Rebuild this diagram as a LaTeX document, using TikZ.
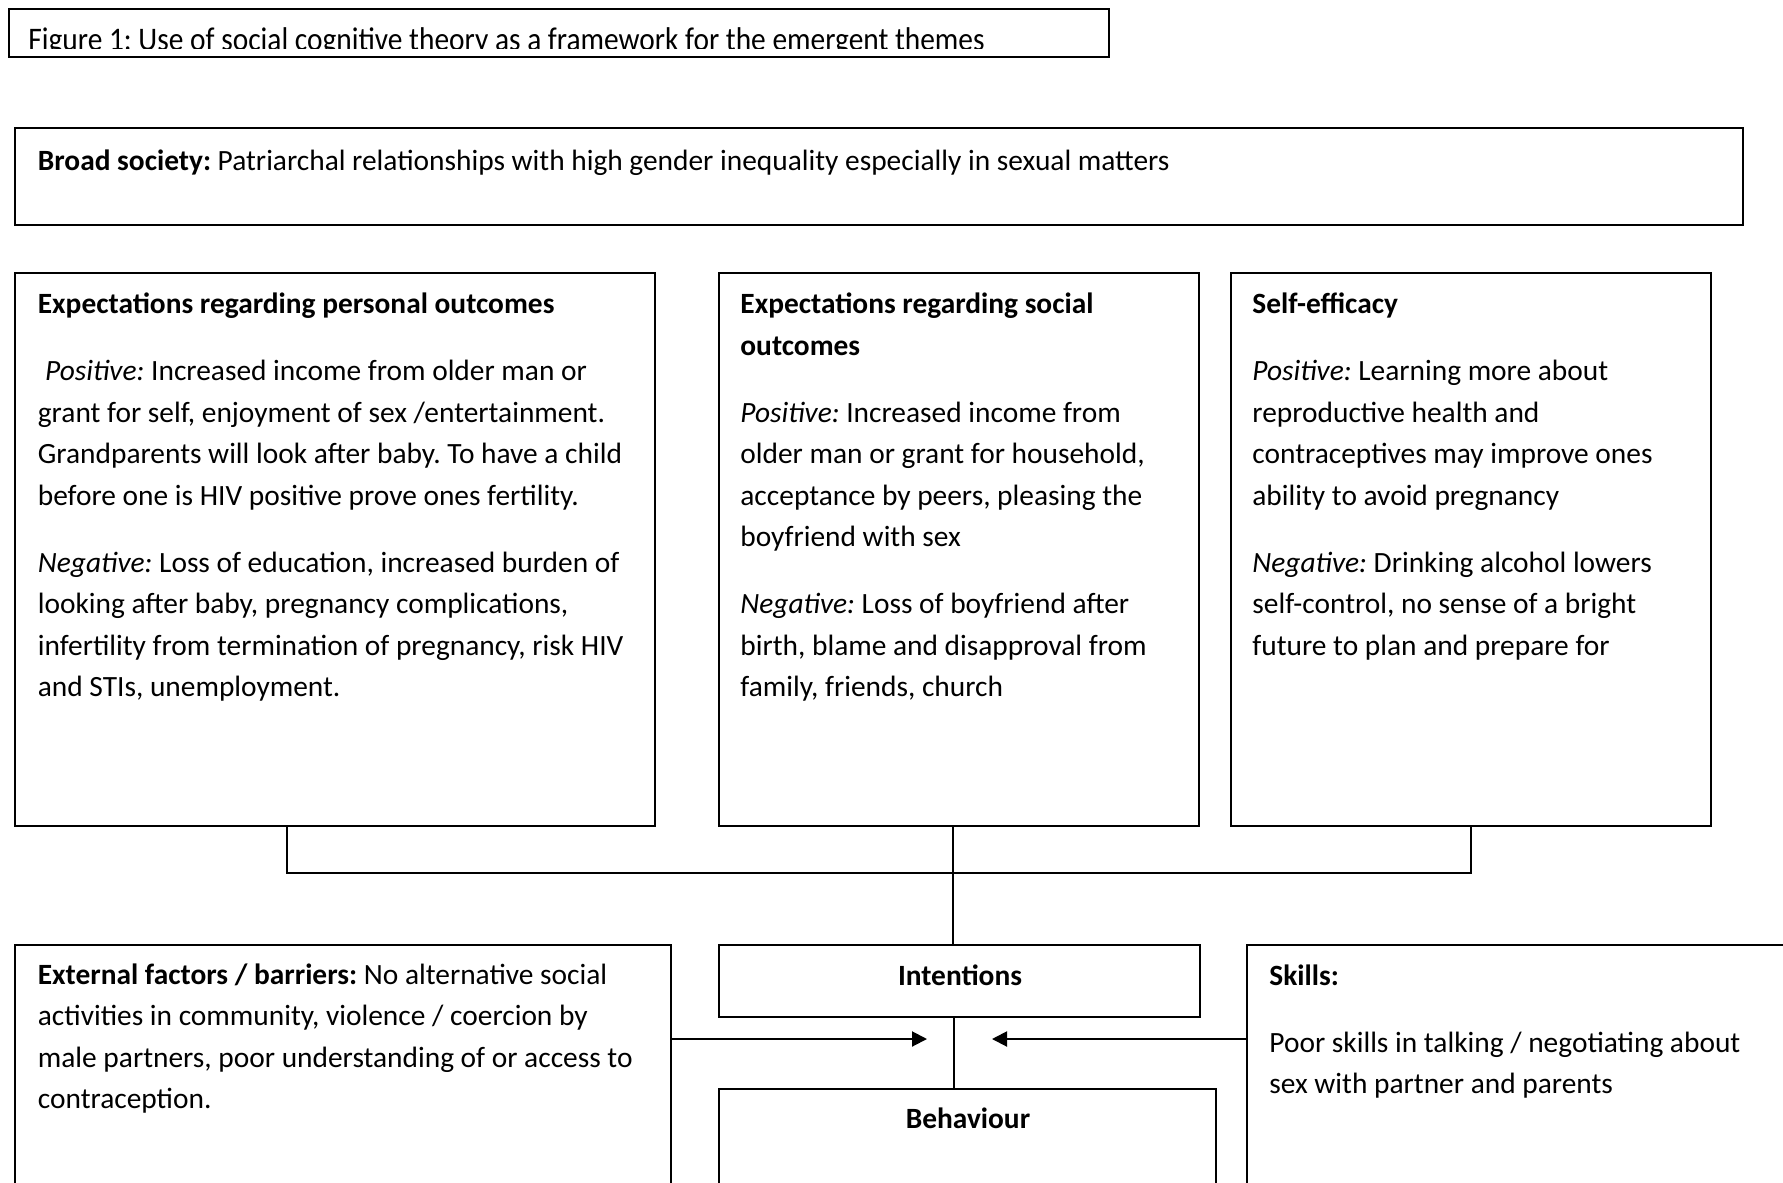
\documentclass[tikz,border=0pt]{standalone}
\usepackage{fontspec}
\usepackage{graphicx}
\setmainfont{Carlito}
\usetikzlibrary{arrows.meta,fit}

\newcommand{\boxfont}{\fontsize{14.7}{20.75}\selectfont\frenchspacing}
\newcommand{\pos}{\textit{Positive:}}
\newcommand{\negv}{\textit{Negative:}}
\newcommand{\boxtext}[2]{\parbox[t]{#1}{\setlength{\parskip}{12.75pt}\raggedright #2}}

\tikzset{
  frame/.style={draw, line width=0.8pt, inner sep=0pt},
  txt/.style={anchor=base west, inner sep=0pt, font=\boxfont},
  link/.style={line width=0.8pt},
  arr/.style={line width=1pt, -{Triangle[length=7.5pt,width=7.5pt]}}
}

\begin{document}
\begin{tikzpicture}[x=0.5pt,y=-0.5pt]
  \clip (0,0) rectangle (1783,1183);
  \fill[white] (0,0) rectangle (1783,1183);

  % frames
  \node[frame, fit={(9,9) (1109,57)}] (caption) {};
  \node[frame, fit={(15,128) (1743,225)}] (society) {};
  \node[frame, fit={(15,273) (655,826)}] (personal) {};
  \node[frame, fit={(719,273) (1199,826)}] (social) {};
  \node[frame, fit={(1231,273) (1711,826)}] (selfeff) {};
  \node[frame, fit={(15,945) (671,1200)}] (external) {};
  \node[frame, fit={(719,945) (1200,1017)}] (intentions) {};
  \node[frame, fit={(1247,945) (1800,1200)}] (skills) {};
  \node[frame, fit={(719,1089) (1216,1200)}] (behaviour) {};

  % texts
  \begin{scope}
    \clip (9,9) rectangle (1109,48.5);
    \node[txt] (caption-txt) at (28,50.5)
      {\scalebox{1}[1.12]{Figure 1: Use of social cognitive theory as a framework for the emergent themes}};
  \end{scope}
  \node[txt] (society-txt) at (37.5,170)
    {\textbf{Broad society:} Patriarchal relationships with high gender inequality especially in sexual matters};
  \node[txt] (personal-txt) at (37.5,313.5) {\boxtext{325pt}{%
    \textbf{Expectations regarding personal outcomes}\par
    \hspace*{0.25em}\pos{} Increased income from older man or\\
    grant for self, enjoyment of sex /entertainment.\\
    Grandparents will look after baby. To have a child\\
    before one is HIV positive prove ones fertility.\par
    \negv{} Loss of education, increased burden of\\
    looking after baby, pregnancy complications,\\
    infertility from termination of pregnancy, risk HIV\\
    and STIs, unemployment.}};
  \node[txt] (social-txt) at (740,313.5) {\boxtext{240pt}{%
    \textbf{Expectations regarding social}\\
    \textbf{outcomes}\par
    \pos{} Increased income from\\
    older man or grant for household,\\
    acceptance by peers, pleasing the\\
    boyfriend with sex\par
    \negv{} Loss of boyfriend after\\
    birth, blame and disapproval from\\
    family, friends, church}};
  \node[txt] (selfeff-txt) at (1252,313.5) {\boxtext{240pt}{%
    \textbf{Self-efficacy}\par
    \pos{} Learning more about\\
    reproductive health and\\
    contraceptives may improve ones\\
    ability to avoid pregnancy\par
    \negv{} Drinking alcohol lowers\\
    self-control, no sense of a bright\\
    future to plan and prepare for}};
  \node[txt] (external-txt) at (37.5,984) {\boxtext{330pt}{%
    \textbf{External factors / barriers:} No alternative social\\
    activities in community, violence / coercion by\\
    male partners, poor understanding of or access to\\
    contraception.}};
  \node[txt, anchor=base] (intentions-txt) at (960,985) {\textbf{Intentions}};
  \node[txt] (skills-txt) at (1269,985) {\boxtext{260pt}{%
    \textbf{Skills:}\par
    Poor skills in talking / negotiating about\\
    sex with partner and parents}};
  \node[txt, anchor=base] (behaviour-txt) at (968,1128.5) {\textbf{Behaviour}};

  % connectors
  \coordinate (bus-l) at (287,873);
  \coordinate (bus-r) at (1471,873);
  \coordinate (bus-m) at (953,873);
  \draw[link] (bus-l |- personal.south) -- (bus-l) -- (bus-r) -- (bus-r |- selfeff.south);
  \draw[link] (bus-m |- social.south) -- (bus-m |- intentions.north);
  \coordinate (act) at (954,1039);
  \draw[link] (act |- intentions.south) -- (act |- behaviour.north);
  \coordinate (arr-l) at (927,1039);
  \coordinate (arr-r) at (992,1039);
  \draw[arr] (external.east |- arr-l) -- (arr-l);
  \draw[arr] (skills.west |- arr-r) -- (arr-r);
\end{tikzpicture}
\end{document}
